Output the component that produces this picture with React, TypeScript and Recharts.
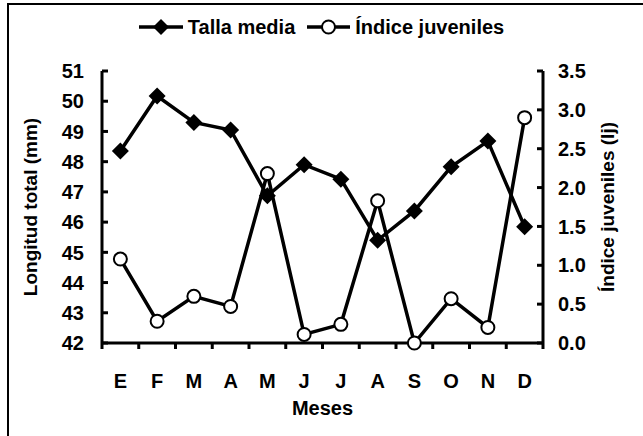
import React from 'react'
import { LineChart, Line, XAxis, YAxis, Legend, Label } from 'recharts'

const meses = ['E', 'F', 'M', 'A', 'M', 'J', 'J', 'A', 'S', 'O', 'N', 'D']
const tallaMedia = [48.35, 50.17, 49.3, 49.05, 46.87, 47.9, 47.42, 45.4, 46.37, 47.83, 48.68, 45.85]
const indiceJuveniles = [1.08, 0.28, 0.6, 0.47, 2.18, 0.11, 0.24, 1.83, 0.0, 0.57, 0.2, 2.9]
const ticksTalla = [42, 43, 44, 45, 46, 47, 48, 49, 50, 51]
const ticksIndice = [0, 0.5, 1, 1.5, 2, 2.5, 3, 3.5]

const data = meses.map((m, i) => ({ mes: m, talla: tallaMedia[i], indice: indiceJuveniles[i] }))

const FONT = '"Liberation Sans", Arial, sans-serif'
const FS = 20
const W = 643
const H = 436
const LEFT_W = 102
const RIGHT_W = 60
const MARGIN_RIGHT = 40
const plotW = W - LEFT_W - RIGHT_W - MARGIN_RIGHT
const band = plotW / meses.length

const Diamond = (props: any) => {
  const { cx, cy, index } = props
  const s = 8.5
  return <path key={'d' + index} d={`M${cx},${cy - s}L${cx + s},${cy}L${cx},${cy + s}L${cx - s},${cy}Z`} fill="#000" />
}

const LeftTick = (props: any) => {
  const { x, y, payload } = props
  const ax = x + 18
  return (
    <g>
      <line x1={ax} x2={ax + 6} y1={y} y2={y} stroke="#000" strokeWidth={3} />
      <text x={x} y={y} dy="0.36em" textAnchor="end" fontFamily={FONT} fontWeight="bold" fontSize={FS} fill="#000">
        {payload.value}
      </text>
    </g>
  )
}

const RightTick = (props: any) => {
  const { x, y, payload } = props
  const ax = x - 15
  return (
    <g>
      <line x1={ax} x2={ax - 6} y1={y} y2={y} stroke="#000" strokeWidth={3} />
      <text x={x} y={y} dy="0.36em" textAnchor="start" fontFamily={FONT} fontWeight="bold" fontSize={FS} fill="#000">
        {Number(payload.value).toFixed(1)}
      </text>
    </g>
  )
}

const BottomTick = (props: any) => {
  const { x, y, payload, index } = props
  const ay = y
  return (
    <g>
      <line x1={x - band / 2} x2={x - band / 2} y1={ay} y2={ay + 6} stroke="#000" strokeWidth={3} />
      {index === meses.length - 1 && (
        <line x1={x + band / 2} x2={x + band / 2} y1={ay} y2={ay + 6} stroke="#000" strokeWidth={3} />
      )}
      <text x={x} y={ay + 45} textAnchor="middle" fontFamily={FONT} fontWeight="bold" fontSize={FS} fill="#000">
        {payload.value}
      </text>
    </g>
  )
}

const LegendContent = () => (
  <div style={{ height: 30, display: 'flex', justifyContent: 'center', alignItems: 'center', fontFamily: FONT, fontWeight: 'bold', fontSize: FS, color: '#000' }}>
    <svg width={44} height={20}>
      <line x1={0} x2={44} y1={10} y2={10} stroke="#000" strokeWidth={3.5} />
      <path d="M22,2L30,10L22,18L14,10Z" fill="#000" />
    </svg>
    <span style={{ marginLeft: 5, marginRight: 12 }}>Talla media</span>
    <svg width={43} height={20}>
      <line x1={0} x2={43} y1={10} y2={10} stroke="#000" strokeWidth={3.5} />
      <circle cx={21.5} cy={10} r={6.5} fill="#fff" stroke="#000" strokeWidth={2} />
    </svg>
    <span style={{ marginLeft: 5 }}>Índice juveniles</span>
  </div>
)

export default function App() {
  return (
    <div style={{ position: 'absolute', left: 0, top: 0, width: W, height: H, overflow: 'hidden', background: '#fff' }}>
      <div style={{ position: 'absolute', left: 7, top: 3, width: 640, height: 450, borderTop: '2px solid #000', borderLeft: '2px solid #000', borderRight: '2px solid #777', boxSizing: 'border-box' }} />
      <div style={{ position: 'absolute', left: 0, top: 0 }}>
        <LineChart width={W} height={H} data={data} margin={{ top: 41, right: MARGIN_RIGHT, bottom: 53, left: 0 }}>
          <Legend verticalAlign="top" content={<LegendContent />} wrapperStyle={{ top: 12, left: 0, width: W }} />
          <XAxis dataKey="mes" padding={{ left: band / 2, right: band / 2 }} height={40} axisLine={{ stroke: '#000', strokeWidth: 3 }} tickLine={false} tickSize={0} tickMargin={0} tick={<BottomTick />} interval={0}>
            <Label
              content={(p: any) => (
                <text x={p.viewBox.x + p.viewBox.width / 2} y={p.viewBox.y + 72} textAnchor="middle" fontFamily={FONT} fontWeight="bold" fontSize={FS} fill="#000">
                  Meses
                </text>
              )}
            />
          </XAxis>
          <YAxis yAxisId="talla" width={LEFT_W} domain={[42, 51]} ticks={ticksTalla} interval={0} axisLine={{ stroke: '#000', strokeWidth: 3 }} tickLine={false} tickSize={0} tickMargin={18} tick={<LeftTick />}>
            <Label
              content={(p: any) => {
                const cx = 30
                const cy = p.viewBox.y + p.viewBox.height / 2
                return (
                  <text x={cx} y={cy} transform={`rotate(-90 ${cx} ${cy})`} textAnchor="middle" dominantBaseline="central" fontFamily={FONT} fontWeight="bold" fontSize={19} fill="#000">
                    Longitud total (mm)
                  </text>
                )
              }}
            />
          </YAxis>
          <YAxis yAxisId="indice" orientation="right" width={RIGHT_W} domain={[0, 3.5]} ticks={ticksIndice} interval={0} axisLine={{ stroke: '#000', strokeWidth: 3 }} tickLine={false} tickSize={0} tickMargin={15} tick={<RightTick />}>
            <Label
              content={(p: any) => {
                const cx = p.viewBox.x + 64
                const cy = p.viewBox.y + p.viewBox.height / 2
                return (
                  <text x={cx} y={cy} transform={`rotate(-90 ${cx} ${cy})`} textAnchor="middle" dominantBaseline="central" fontFamily={FONT} fontWeight="bold" fontSize={19} fill="#000">
                    Índice juveniles (Ij)
                  </text>
                )
              }}
            />
          </YAxis>
          <Line yAxisId="talla" dataKey="talla" name="Talla media" stroke="#000" strokeWidth={3.5} dot={<Diamond />} activeDot={false} isAnimationActive={false} />
          <Line yAxisId="indice" dataKey="indice" name="Índice juveniles" stroke="#000" strokeWidth={3.5} dot={{ r: 6.5, fill: '#fff', stroke: '#000', strokeWidth: 2 }} activeDot={false} isAnimationActive={false} />
        </LineChart>
      </div>
    </div>
  )
}
